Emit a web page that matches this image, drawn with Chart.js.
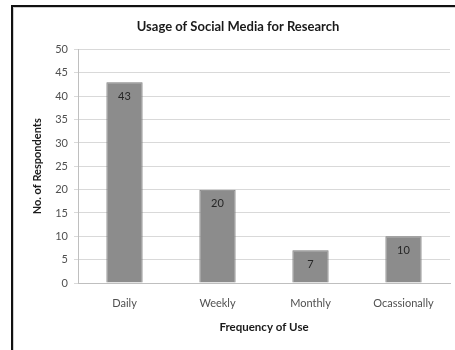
<!DOCTYPE html>
<html>
<head>
<meta charset="utf-8">
<script src="https://cdn.jsdelivr.net/npm/chart.js@4.4.0/dist/chart.umd.min.js"></script>
<style>
  html, body { margin: 0; padding: 0; background: #fff; }
  #frame {
    position: absolute; left: 11px; top: 5px; width: 460px; height: 360px;
    border-left: 2px solid #111; border-top: 2px solid #111;
    box-shadow: inset 1px 1px 0 #cfcfcf;
  }
  #wrap { position: absolute; left: 0; top: 0; width: 455px; height: 350px; }
</style>
</head>
<body>
<div id="frame"></div>
<div id="wrap"><canvas id="chart1" width="455" height="350"></canvas></div>
<script>
const categories = ['Daily', 'Weekly', 'Monthly', 'Ocassionally'];
const respondents = [43, 20, 7, 10];
const yTicks = [0, 5, 10, 15, 20, 25, 30, 35, 40, 45, 50];

const fontFamily = 'Lato, "Open Sans", "Liberation Sans", sans-serif';

// write each value inside the top of its bar
const barValues = {
    id: 'barValues',
    afterDatasetsDraw(chart) {
        const ctx = chart.ctx;
        ctx.save();
        ctx.font = '11px ' + fontFamily;
        ctx.fillStyle = '#262626';
        ctx.textAlign = 'center';
        ctx.textBaseline = 'middle';
        chart.getDatasetMeta(0).data.forEach((bar, i) => {
            ctx.fillText(respondents[i], bar.x, bar.y + 14);
        });
        ctx.restore();
    }
};

new Chart(document.getElementById('chart1'), {
    type: 'bar',
    data: {
        labels: categories,
        datasets: [{
            label: 'No. of Respondents',
            data: respondents,
            backgroundColor: '#8c8c8c',
            borderColor: '#7a7a7a',
            borderWidth: 1,
            barPercentage: 0.39,
            categoryPercentage: 1
        }]
    },
    options: {
        responsive: false,
        animation: false,
        layout: { padding: { left: 26, right: 5, top: 0, bottom: 0 } },
        scales: {
            y: {
                min: 0,
                max: 50,
                afterBuildTicks: scale => { scale.ticks = yTicks.map(v => ({ value: v })); },
                afterFit: scale => { scale.width = 52; },
                grid: { color: '#d9d9d9', tickLength: 4 },
                border: { color: '#bfbfbf' },
                ticks: { color: '#505050', padding: 6, font: { family: fontFamily, size: 11 } },
                title: {
                    display: true,
                    text: 'No. of Respondents',
                    color: '#1a1a1a',
                    padding: { top: 5, bottom: 0 },
                    font: { family: fontFamily, size: 11, weight: 'bold' }
                }
            },
            x: {
                grid: { display: false, drawTicks: false },
                border: { color: '#bfbfbf' },
                afterFit: scale => { scale.height = 67; },
                ticks: { color: '#505050', padding: 14, maxRotation: 0, font: { family: fontFamily, size: 11 } },
                title: {
                    display: true,
                    text: 'Frequency of Use',
                    color: '#1a1a1a',
                    padding: { top: 4, bottom: 16 },
                    font: { family: fontFamily, size: 11.5, weight: 'bold' }
                }
            }
        },
        plugins: {
            legend: { display: false },
            tooltip: { enabled: false },
            title: {
                display: true,
                text: 'Usage of Social Media for Research',
                color: '#1a1a1a',
                padding: { top: 19, bottom: 15 },
                font: { family: fontFamily, size: 13, weight: 'bold' }
            }
        }
    },
    plugins: [barValues]
});
</script>
</body>
</html>
